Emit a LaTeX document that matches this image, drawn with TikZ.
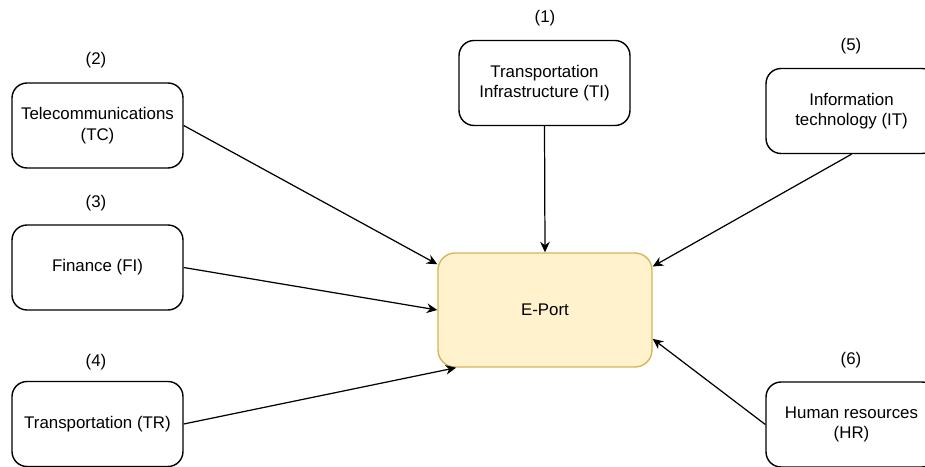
\documentclass[tikz,border=0pt]{standalone}
\usepackage{fontspec}
\setmainfont{Liberation Sans}
\usepackage{xcolor}
\usepackage{tikz}
\usetikzlibrary{arrows.meta,positioning,calc}

\definecolor{epfill}{HTML}{FFF2CC}
\definecolor{epline}{HTML}{D6B656}

\begin{document}
\begin{tikzpicture}[x=0.02cm, y=-0.02cm, font=\fontsize{9.6}{11.6}\selectfont,
    box/.style={draw, line width=0.8pt, rounded corners=0.3cm, minimum width=3.42cm, minimum height=1.7cm, align=center, inner sep=2pt},
    epbox/.style={draw=epline, fill=epfill, line width=0.8pt, rounded corners=0.34cm, minimum width=4.28cm, minimum height=2.28cm},
    num/.style={inner sep=1pt},
    link/.style={-{Stealth[length=6pt, width=5.5pt]}, line width=0.7pt}]
    \useasboundingbox (0,0) rectangle (925,466);

    % Centre
    \node[epbox] (ep) at (545, 310) {E-Port};

    % Left column
    \node[box] (tc) at (97.5, 125.5) {Telecommunications\\(TC)};
    \node[box] (fi) at (97.5, 267.5) {Finance (FI)};
    \node[box] (tr) at (97.5, 424) {Transportation (TR)};

    % Top and right
    \node[box] (ti) at (544.5, 83) {Transportation\\Infrastructure (TI)};
    \node[box] (it) at (851.5, 111) {Information\\technology (IT)};
    \node[box] (hr) at (851.5, 424.5) {Human resources\\(HR)};

    % Numbers
    \node[num] (n1) at (545, 18) {(1)};
    \node[num] (n2) at (96, 60) {(2)};
    \node[num] (n3) at (96, 203) {(3)};
    \node[num] (n4) at (96, 362) {(4)};
    \node[num] (n5) at (851, 46) {(5)};
    \node[num] (n6) at (851, 360) {(6)};

    % Arrows into E-Port
    \draw[link] (ti.south) -- (ep.north);
    \draw[link] (tc.east) -- (ep.157);
    \draw[link] (fi.east) -- (ep.west);
    \draw[link] (tr.east) -- (ep.213);
    \draw[link] (it.south) -- (ep.22);
    \draw[link] (hr.west) -- (ep.-15);
\end{tikzpicture}
\end{document}
